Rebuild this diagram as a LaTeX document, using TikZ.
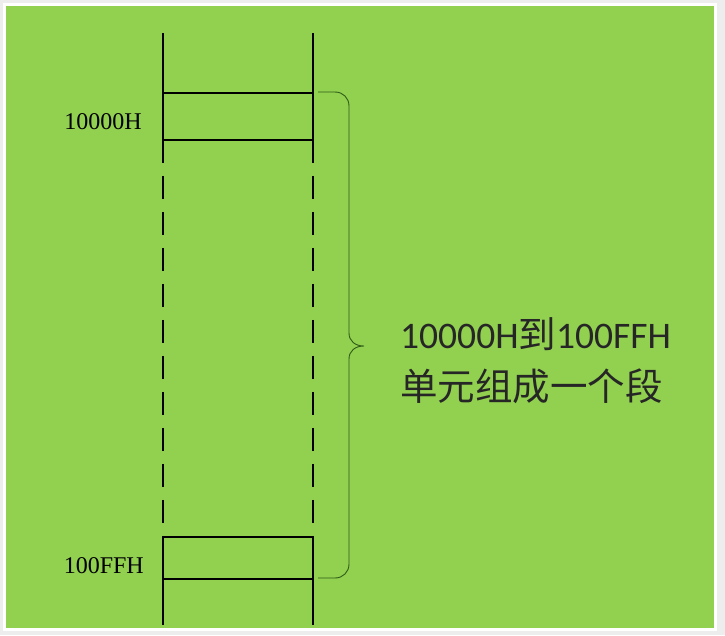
\documentclass[tikz,border=0pt]{standalone}
\usepackage{fontspec}
\setmainfont{Liberation Serif}
\newfontfamily\cjkfont{Noto Sans CJK SC}
\newfontfamily\latinnote{Carlito}
\usetikzlibrary{positioning}
\definecolor{segGreen}{HTML}{92D050}
\definecolor{segFrame}{HTML}{EDEDED}
\definecolor{segBrace}{HTML}{2F5A17}
\definecolor{segText}{HTML}{262626}

\begin{document}
\begin{tikzpicture}[x=1pt, y=-1pt,
    cell/.style={draw=black, line width=1.8pt, minimum width=150pt, inner sep=0pt, outer sep=0pt},
    addr/.style={font=\fontsize{24}{28}\selectfont, inner sep=0pt, anchor=east},
    memline/.style={black, line width=1.8pt},
    gapline/.style={memline, dash pattern=on 23.6pt off 12.4pt}]
  % Fondo
  \fill[segFrame] (0,0) rectangle (725,635);
  \fill[white] (3,3) rectangle (717,631);
  \fill[segGreen] (5.5,5.5) rectangle (714,628);
  \useasboundingbox (0,0) rectangle (725,635);
  % Celdas
  \node[cell, minimum height=46.5pt] (cellTop) at (238,116.6) {};
  \node[cell, minimum height=42.6pt] (cellBot) at (238,558) {};
  \coordinate (memTopL) at (163,33);
  \coordinate (memTopR) at (313,33);
  \coordinate (memBotL) at (163,625);
  \coordinate (memBotR) at (313,625);
  % Lineas verticales
  \draw[memline] (memTopL) -- (cellTop.north west);
  \draw[memline] (memTopR) -- (cellTop.north east);
  \draw[gapline] (cellTop.south west) -- (cellBot.north west);
  \draw[gapline] (cellTop.south east) -- (cellBot.north east);
  \draw[memline] (cellBot.south west) -- (memBotL);
  \draw[memline] (cellBot.south east) -- (memBotR);
  % Direcciones
  \node[addr] (addrTop) at (142,122) {10000H};
  \node[addr] (addrBot) at (144,566) {100FFH};
  % Llave
  \coordinate (braceTop) at (318,92);
  \coordinate (braceTip) at (364,346);
  \coordinate (braceBot) at (318,578);
  \draw[segBrace, line width=0.9pt] (braceTop) -- (335,92)
    .. controls (343,92) and (349,98) .. (349,106) -- (349,333)
    .. controls (349,341) and (355,346) .. (braceTip)
    .. controls (355,346) and (349,351) .. (349,359) -- (349,564)
    .. controls (349,572) and (343,578) .. (335,578) -- (braceBot);
  % Nota
  \node[anchor=west, inner sep=0pt, align=left, text=segText,
        font=\cjkfont\fontsize{37.5}{52}\selectfont] (segNote) at (400,361)
    {{\latinnote 10000H}到{\latinnote 100FFH}\\单元组成一个段};
\end{tikzpicture}
\end{document}
